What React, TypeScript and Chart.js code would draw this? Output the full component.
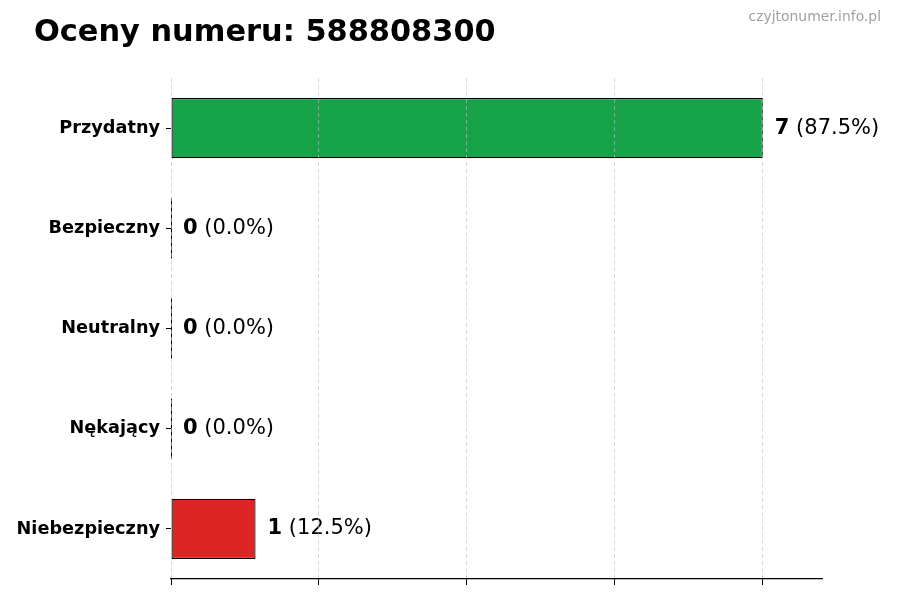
import { useEffect, useRef } from 'react';
import Chart from 'chart.js/auto';


// categories and counts
const CATEGORIES: string[] = ['Przydatny', 'Bezpieczny', 'Neutralny', 'Nękający', 'Niebezpieczny'];
const COUNTS: number[] = [7, 0, 0, 0, 1];
const BAR_COLORS: string[] = ['#16a34a', '#9ca3af', '#60a5fa', '#f97316', '#dc2626'];

// x gridline positions
const X_TICKS: number[] = [0, 1.75, 3.5, 5.25, 7];

const TITLE = 'Oceny numeru: 588808300';
const WATERMARK = 'czyjtonumer.info.pl';
const FONT = "'DejaVu Sans', sans-serif";

export default function App() {
  const canvasRef = useRef<HTMLCanvasElement>(null);

  useEffect(() => {
    if (!canvasRef.current) return;

    const total = COUNTS.reduce((a, b) => a + b, 0);
    const maxCount = Math.max(...COUNTS);

    // title + watermark + value labels drawn on the canvas
    const textPlugin = {
      id: 'textPlugin',
      afterDatasetsDraw(chart: Chart) {
        const ctx = chart.ctx;
        const meta = chart.getDatasetMeta(0);
        ctx.save();

        // zero bars still get a thin edge line like the original
        meta.data.forEach((bar: any, i: number) => {
          if (COUNTS[i] !== 0) return;
          const h = bar.height;
          ctx.strokeStyle = '#000';
          ctx.lineWidth = 1;
          ctx.beginPath();
          ctx.moveTo(bar.x + 0.5, bar.y - h / 2);
          ctx.lineTo(bar.x + 0.5, bar.y + h / 2);
          ctx.stroke();
        });

        meta.data.forEach((bar: any, i: number) => {
          const pct = total ? (COUNTS[i] / total) * 100 : 0;
          const x = bar.x + 12;
          const y = bar.y;
          ctx.textBaseline = 'middle';
          ctx.textAlign = 'left';
          ctx.fillStyle = '#000';
          ctx.font = `bold 21px ${FONT}`;
          const num = String(COUNTS[i]);
          ctx.fillText(num, x, y);
          const w = ctx.measureText(num).width;
          ctx.font = `21px ${FONT}`;
          ctx.fillText(` (${pct.toFixed(1)}%)`, x + w, y);
        });
        ctx.restore();
      },
      afterDraw(chart: Chart) {
        const ctx = chart.ctx;
        ctx.save();
        ctx.fillStyle = '#000';
        ctx.font = `bold 30.4px ${FONT}`;
        ctx.textAlign = 'left';
        ctx.textBaseline = 'alphabetic';
        ctx.fillText(TITLE, 34, 41);

        ctx.fillStyle = '#a0a0a0';
        ctx.font = `13.9px ${FONT}`;
        ctx.textAlign = 'right';
        ctx.textBaseline = 'middle';
        ctx.fillText(WATERMARK, 881, 17);
        ctx.restore();
      },
    };

    const chart = new Chart(canvasRef.current, {
      type: 'bar',
      data: {
        labels: CATEGORIES,
        datasets: [
          {
            data: COUNTS,
            backgroundColor: BAR_COLORS,
            borderColor: '#000',
            borderWidth: 1.2,
            borderSkipped: false,
            barPercentage: 0.6,
            categoryPercentage: 1,
          },
        ],
      },
      options: {
        indexAxis: 'y',
        animation: false,
        responsive: true,
        maintainAspectRatio: false,
        layout: { padding: { left: 0, top: 78, right: 78, bottom: 0 } },
        plugins: {
          legend: { display: false },
          tooltip: { enabled: false },
          title: { display: false },
        },
        scales: {
          x: {
            min: 0,
            max: maxCount * 1.1,
            afterBuildTicks: (scale: any) => {
              scale.ticks = X_TICKS.map((v) => ({ value: v }));
            },
            afterFit: (scale: any) => {
              scale.height = 21;
            },
            ticks: { display: false },
            grid: {
              z: 1,
              color: 'rgba(190, 190, 190, 0.6)',
              lineWidth: 1,
              tickColor: '#000',
              tickLength: 6,
              tickBorderDash: [],
            },
            border: { display: true, color: '#000', width: 1.2, dash: [4, 3], z: 1 },
          },
          y: {
            afterFit: (scale: any) => {
              scale.width = 171;
            },
            ticks: {
              color: '#000',
              padding: 6,
              font: { family: FONT, size: 17.7, weight: 'bold' },
            },
            grid: {
              offset: false,
              drawOnChartArea: false,
              tickColor: '#000',
              tickLength: 5,
            },
            border: { display: false },
          },
        },
      },
      plugins: [textPlugin],
    });

    return () => {
      chart.destroy();
    };
  }, []);

  return (
    <div style={{ position: 'fixed', left: 0, top: 0, width: 900, height: 600, background: '#fff' }}>
      <canvas ref={canvasRef} />
    </div>
  );
}
